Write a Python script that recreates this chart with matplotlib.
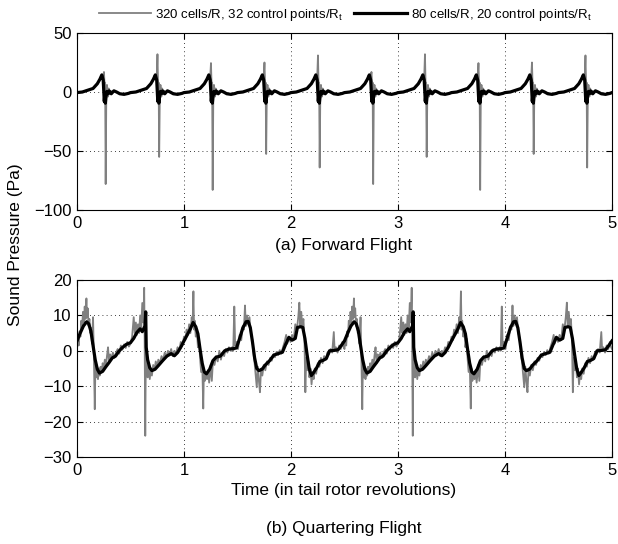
import numpy as np
import matplotlib
matplotlib.use("Agg")
import matplotlib.pyplot as plt

plt.rcParams['font.family'] = ['Liberation Sans', 'DejaVu Sans']
plt.rcParams['mathtext.fontset'] = 'custom'
plt.rcParams['mathtext.rm'] = 'Liberation Sans'

# ---- (a) forward flight: one blade pass (0.5 rev), the same shape repeats every pass
fwd_phase_80 = [0.0, 0.05, 0.10, 0.15, 0.19, 0.215, 0.232, 0.245, 0.25, 0.255,
                0.26, 0.265, 0.272, 0.28, 0.29, 0.30, 0.32, 0.345, 0.37, 0.40,
                0.44, 0.48]
fwd_val_80 = [-0.5, 0.0, 1.5, 3.0, 7.0, 11.0, 14.5, 10.0, 0.0, -8.0,
              -2.0, -9.5, -3.0, 0.5, -1.5, 1.0, -1.5, 1.0, 0.0, -1.5,
              -2.0, -1.2]

fwd_phase_320 = [0.0, 0.05, 0.10, 0.15, 0.19, 0.215, 0.232, 0.245, 0.252, 0.258,
                 0.263, 0.268, 0.274, 0.28, 0.288, 0.296, 0.305, 0.315, 0.33, 0.345,
                 0.37, 0.40, 0.44, 0.48]
fwd_val_320 = [-0.5, 0.0, 1.5, 3.0, 7.0, 11.0, 14.5, 12.0, None, 5.0,
               8.0, None, -2.0, 6.0, -4.0, 3.0, -2.0, 1.0, 0.0, 1.0,
               0.0, -1.5, -2.0, -1.2]
# spike peaks for the 5 blade passes of one tail-rotor cycle (cycle repeats twice)
fwd_spike_up = [17.0, 32.0, 24.5, 25.0, 31.0]
fwd_spike_down = [-78.0, -55.0, -83.0, -52.5, -64.0]
n_pass = 10
pass_len = 0.5

# ---- (b) quartering flight: one 2.5 rev record, repeated twice in the plot
qtr_t_80 = [0.00, 0.03, 0.06, 0.09, 0.11, 0.13, 0.15, 0.17, 0.19, 0.21,
            0.24, 0.27, 0.30, 0.33, 0.36, 0.39, 0.42, 0.46, 0.50, 0.53,
            0.56, 0.59, 0.61, 0.625, 0.635, 0.642, 0.647, 0.66, 0.68, 0.70,
            0.73, 0.76, 0.80, 0.84, 0.88, 0.91, 0.94, 0.97, 1.00, 1.03,
            1.06, 1.085, 1.11, 1.13, 1.15, 1.17, 1.19, 1.21, 1.24, 1.27,
            1.30, 1.34, 1.38, 1.42, 1.46, 1.49, 1.52, 1.55, 1.58, 1.60,
            1.62, 1.64, 1.66, 1.68, 1.70, 1.73, 1.76, 1.80, 1.84, 1.88,
            1.92, 1.95, 1.98, 2.01, 2.04, 2.06, 2.09, 2.11, 2.13, 2.15,
            2.17, 2.19, 2.21, 2.24, 2.27, 2.30, 2.33, 2.36, 2.40, 2.44,
            2.47]
qtr_v_80 = [2.8, 5.0, 7.0, 8.2, 7.6, 5.5, 1.5, -2.5, -5.2, -6.3,
            -5.8, -4.5, -3.3, -2.0, -1.5, -0.2, 0.8, 1.8, 2.3, 3.5,
            5.2, 6.2, 5.4, 6.4, 7.0, 11.0, 1.0, -2.5, -4.8, -5.6,
            -5.2, -4.2, -2.8, -1.5, -0.8, -1.4, -0.5, 1.0, 2.8, 4.5,
            6.2, 8.0, 6.8, 4.8, 0.5, -3.5, -6.0, -6.5, -5.2, -2.8,
            -1.8, -1.5, 0.0, 0.5, 0.6, 0.8, 3.5, 6.5, 8.2, 8.3,
            6.5, 2.5, -2.0, -5.0, -5.6, -5.2, -4.0, -2.8, -1.2, -0.8,
            -0.4, 1.8, 3.8, 3.0, 3.5, 6.6, 6.8, 6.6, 3.5, -1.0,
            -5.0, -7.0, -6.2, -4.8, -3.0, -2.7, -2.2, 0.0, 0.1, 0.3,
            1.5]

qtr_t_320 = [0.000, 0.008, 0.016, 0.024, 0.032, 0.040, 0.048, 0.056, 0.064, 0.072,
             0.080, 0.088, 0.094, 0.100, 0.108, 0.116, 0.124, 0.132, 0.140, 0.150,
             0.158, 0.166, 0.172, 0.180, 0.188, 0.196, 0.204, 0.212, 0.220, 0.230,
             0.240, 0.250, 0.260, 0.270, 0.280, 0.290, 0.300, 0.310, 0.320, 0.335,
             0.350, 0.365, 0.380, 0.395, 0.410, 0.425, 0.440, 0.455, 0.470, 0.485,
             0.500, 0.515, 0.530, 0.540, 0.550, 0.560, 0.570, 0.580, 0.590, 0.600,
             0.610, 0.620, 0.628, 0.632, 0.638, 0.644, 0.652, 0.660, 0.670, 0.680,
             0.690, 0.700, 0.712, 0.724, 0.736, 0.748, 0.760, 0.775, 0.790, 0.805,
             0.820, 0.835, 0.850, 0.865, 0.880, 0.895, 0.910, 0.925, 0.940, 0.955,
             0.970, 0.985, 1.000, 1.012, 1.024, 1.036, 1.048, 1.060, 1.072, 1.080,
             1.088, 1.094, 1.100, 1.110, 1.120, 1.130, 1.140, 1.150, 1.160, 1.170,
             1.180, 1.186, 1.195, 1.205, 1.215, 1.225, 1.235, 1.250, 1.260, 1.270,
             1.285, 1.300, 1.315, 1.330, 1.345, 1.360, 1.375, 1.390, 1.405, 1.420,
             1.435, 1.450, 1.460, 1.470, 1.478, 1.490, 1.505, 1.520, 1.535, 1.550,
             1.560, 1.570, 1.578, 1.590, 1.600, 1.612, 1.625, 1.640, 1.650, 1.660,
             1.670, 1.680, 1.690, 1.700, 1.710, 1.720, 1.732, 1.745, 1.760, 1.775,
             1.790, 1.805, 1.820, 1.835, 1.850, 1.865, 1.880, 1.895, 1.910, 1.925,
             1.940, 1.955, 1.965, 1.980, 1.995, 2.010, 2.025, 2.040, 2.055, 2.068,
             2.078, 2.086, 2.096, 2.106, 2.116, 2.126, 2.134, 2.142, 2.152, 2.162,
             2.172, 2.182, 2.192, 2.202, 2.212, 2.222, 2.235, 2.250, 2.265, 2.280,
             2.295, 2.310, 2.325, 2.340, 2.355, 2.370, 2.385, 2.400, 2.408, 2.420,
             2.435, 2.450, 2.465, 2.480, 2.492]
qtr_v_320 = [0.5, 3.5, 1.5, 5.5, 4.0, 8.5, 6.5, 11.0, 8.0, 12.5,
             9.0, 14.8, 9.5, 12.0, 7.0, 9.0, 5.0, 6.5, 2.0, 9.5,
             -2.0, -16.5, -4.0, -7.5, -4.5, -8.0, -5.0, -7.0, -4.5, -6.0,
             -3.5, -5.0, -2.5, -4.5, -1.5, 1.0, -3.5, -1.0, -2.5, -0.5,
             -2.0, -0.5, 0.5, -0.8, 1.5, 0.3, 1.8, 0.8, 2.5, 1.2,
             2.0, 4.0, 9.5, 5.0, 8.0, 4.5, 7.5, 5.0, 10.0, 6.0,
             13.5, 8.0, 17.8, 4.0, -24.0, 2.0, -3.0, -7.5, -4.0, -8.0,
             -5.0, -7.0, -4.0, -5.5, -3.0, -4.5, -2.5, -3.5, -1.5, -2.5,
             -0.5, -1.8, 0.0, -1.2, 0.5, -1.5, 0.0, -0.8, 1.0, 0.0,
             2.5, 1.5, 4.0, 3.0, 6.0, 4.5, 7.5, 5.0, 9.5, 7.0,
             16.8, 6.0, 8.5, 4.0, 6.0, 1.0, 3.5, -2.0, -6.0, -3.0,
             -16.3, -5.0, -8.5, -6.0, -8.0, -5.5, -9.0, -4.0, -8.5, -3.0,
             -4.0, -1.5, -3.0, 0.0, -2.5, -0.5, -1.5, 0.5, -0.5, 1.0,
             0.0, 1.0, 0.0, 12.5, 1.5, 2.5, 0.5, 4.5, 3.0, 7.0,
             6.0, 12.8, 7.0, 10.0, 7.5, 9.5, 5.0, 3.0, -1.0, -3.5,
             -7.0, -10.3, -4.5, -8.5, -11.7, -5.0, -7.0, -4.0, -5.5, -3.0,
             -4.0, -2.0, -2.8, -1.0, -1.8, -0.3, -1.2, 0.2, -0.8, 1.0,
             2.5, 4.5, 2.0, 4.0, 2.5, 4.5, 3.0, 7.5, 6.0, 9.5,
             13.6, 7.0, 11.0, 6.5, 9.0, 3.0, -11.7, -2.0, -5.5, -3.0,
             -7.5, -5.0, -9.5, -6.0, -8.0, -5.0, -6.5, -3.5, -4.5, -2.0,
             -3.5, -1.5, -2.5, -0.5, -1.0, 0.5, -0.5, 5.3, 0.0, 1.0,
             -0.5, 1.5, 0.5, 2.5, 1.0]
qtr_cycle = 2.5

label_320 = r'320 cells/R, 32 control points/R$_{\mathrm{t}}$'
label_80 = r'80 cells/R, 20 control points/R$_{\mathrm{t}}$'


def build_forward(phase, vals, with_spikes):
    t_all, v_all = [], []
    for k in range(n_pass):
        v = list(vals)
        if with_spikes:
            v[v.index(None)] = fwd_spike_up[k % 5]
            v[v.index(None)] = fwd_spike_down[k % 5]
        t_all.extend(k * pass_len + np.array(phase))
        v_all.extend(v)
    t_all.append(n_pass * pass_len)
    v_all.append(v_all[0])
    return np.array(t_all), np.array(v_all, dtype=float)


def build_quarter(t, v):
    t = np.array(t)
    v = np.array(v)
    return np.concatenate([t, t + qtr_cycle, [2 * qtr_cycle]]), np.concatenate([v, v, [v[0]]])


def style(ax, yticks):
    ax.set_xlim(0, 5)
    ax.set_xticks(range(6))
    ax.set_ylim(yticks[0], yticks[-1])
    ax.set_yticks(yticks)
    ax.grid(True, color='k', linestyle=(0, (1, 4)), linewidth=0.6)
    ax.tick_params(direction='in', top=True, right=True, length=4, labelsize=12, pad=4)
    for s in ax.spines.values():
        s.set_linewidth(0.8)


fig = plt.figure(figsize=(6.18, 5.44), dpi=100)
ax1 = fig.add_axes([77 / 618, 1 - 210 / 544, 535 / 618, 177 / 544])
ax2 = fig.add_axes([77 / 618, 1 - 457 / 544, 535 / 618, 177 / 544])

t, v = build_forward(fwd_phase_320, fwd_val_320, True)
l1, = ax1.plot(t, v, color='#808080', linewidth=1.3)
t, v = build_forward(fwd_phase_80, fwd_val_80, False)
l2, = ax1.plot(t, v, color='black', linewidth=2.3)
style(ax1, [-100, -50, 0, 50])

t, v = build_quarter(qtr_t_320, qtr_v_320)
ax2.plot(t, v, color='#808080', linewidth=1.3)
t, v = build_quarter(qtr_t_80, qtr_v_80)
ax2.plot(t, v, color='black', linewidth=2.3)
style(ax2, [-30, -20, -10, 0, 10, 20])

fig.text(344 / 618, 1 - 245 / 544, '(a) Forward Flight', ha='center', va='center', fontsize=12.5)
fig.text(344 / 618, 1 - 490 / 544, 'Time (in tail rotor revolutions)', ha='center', va='center', fontsize=12.5)
fig.text(344 / 618, 1 - 529 / 544, '(b) Quartering Flight', ha='center', va='center', fontsize=12.5)
fig.text(16 / 618, 1 - 245 / 544, 'Sound Pressure (Pa)', ha='center', va='center', rotation=90, fontsize=12.5)

fig.legend([l1, l2], [label_320, label_80], loc='center', bbox_to_anchor=(345 / 618, 1 - 15 / 544),
           ncol=2, frameon=False, fontsize=9.5, handlelength=4, handletextpad=0.3, columnspacing=0.8)

fig.savefig('out.png', dpi=100)
